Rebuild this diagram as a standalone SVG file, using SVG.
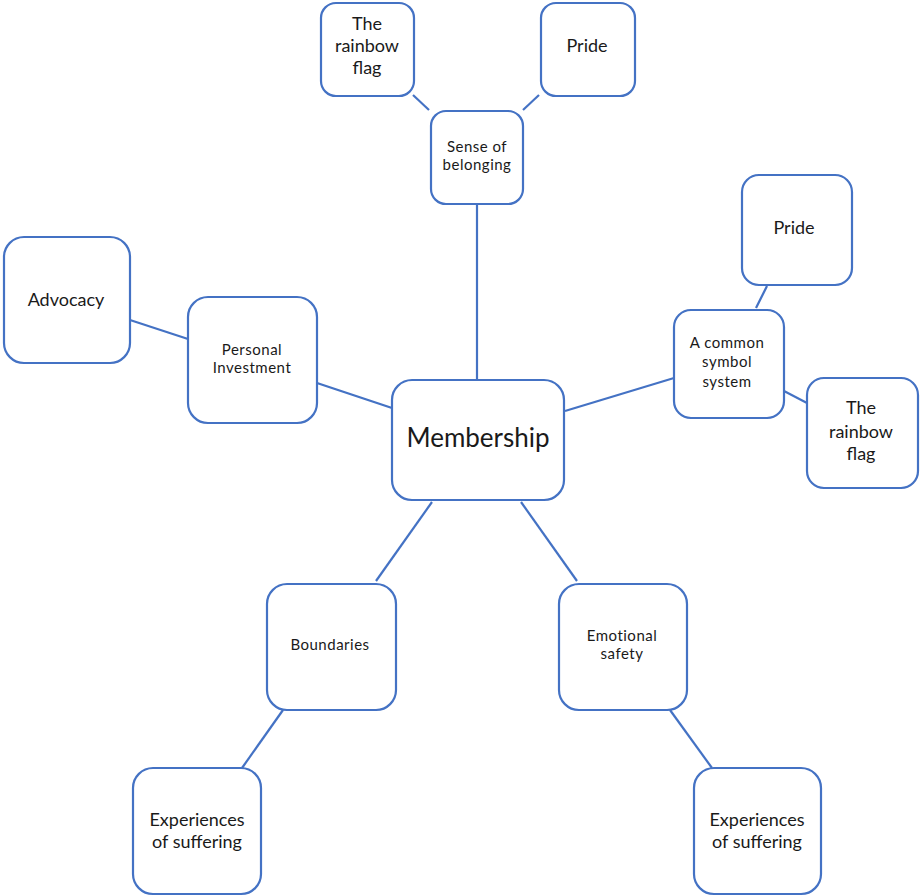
<svg xmlns="http://www.w3.org/2000/svg" width="921" height="896" viewBox="0 0 921 896">
<style>
rect.n{fill:#fff;stroke:#4472C4;stroke-width:2.2}
#edges line{stroke:#4472C4;stroke-width:2.2}
text{font-family:Lato,"Open Sans","Liberation Sans",sans-serif;fill:#1a1a1a;text-anchor:middle}
.s{font-size:15px;letter-spacing:0.5px}
.m{font-size:18px}
.l{font-size:26px}
</style>
<rect width="921" height="896" fill="#fff"/>
<g id="edges">
<line x1="413" y1="95" x2="429" y2="110"/>
<line x1="539" y1="95" x2="523" y2="110"/>
<line x1="477" y1="204" x2="477" y2="380"/>
<line x1="767" y1="286" x2="756" y2="308"/>
<line x1="784" y1="391" x2="807" y2="403"/>
<line x1="674" y1="378" x2="565" y2="411"/>
<line x1="130" y1="320" x2="188" y2="339"/>
<line x1="317" y1="383" x2="392" y2="408"/>
<line x1="432" y1="502" x2="376" y2="581"/>
<line x1="283" y1="710" x2="242" y2="768"/>
<line x1="521" y1="502" x2="577" y2="581"/>
<line x1="670" y1="710" x2="712" y2="768"/>
</g>
<g id="membership"><rect class="n" x="392" y="380" width="172" height="120" rx="20"/><text class="l" x="478" y="447">Membership</text></g>
<g id="sense"><rect class="n" x="431" y="111" width="92" height="93" rx="15"/><text class="s" x="477" y="152">Sense of</text><text class="s" x="477" y="170">belonging</text></g>
<g id="flag1"><rect class="n" x="321" y="3" width="93" height="93" rx="15"/><text class="m" x="367" y="30">The</text><text class="m" x="367" y="52">rainbow</text><text class="m" x="367" y="74">flag</text></g>
<g id="pride1"><rect class="n" x="541" y="3" width="94" height="93" rx="15"/><text class="m" x="587" y="52">Pride</text></g>
<g id="symbol"><rect class="n" x="674" y="310" width="110" height="108" rx="17"/><text class="s" x="727" y="348">A common</text><text class="s" x="727" y="367">symbol</text><text class="s" x="727" y="387">system</text></g>
<g id="pride2"><rect class="n" x="742" y="175" width="110" height="110" rx="17"/><text class="m" x="794" y="234">Pride</text></g>
<g id="flag2"><rect class="n" x="807" y="378" width="111" height="110" rx="17"/><text class="m" x="861" y="414">The</text><text class="m" x="861" y="438">rainbow</text><text class="m" x="861" y="460">flag</text></g>
<g id="advocacy"><rect class="n" x="4" y="237" width="126" height="126" rx="20"/><text class="m" x="66" y="306">Advocacy</text></g>
<g id="personal"><rect class="n" x="188" y="297" width="129" height="126" rx="20"/><text class="s" x="252" y="355">Personal</text><text class="s" x="252" y="373">Investment</text></g>
<g id="boundaries"><rect class="n" x="267" y="584" width="129" height="126" rx="20"/><text class="s" x="330" y="650">Boundaries</text></g>
<g id="emotional"><rect class="n" x="559" y="584" width="128" height="126" rx="20"/><text class="s" x="622" y="641">Emotional</text><text class="s" x="622" y="659">safety</text></g>
<g id="exp1"><rect class="n" x="133" y="768" width="128" height="126" rx="20"/><text class="m" x="197" y="826">Experiences</text><text class="m" x="197" y="848">of suffering</text></g>
<g id="exp2"><rect class="n" x="694" y="768" width="127" height="126" rx="20"/><text class="m" x="757" y="826">Experiences</text><text class="m" x="757" y="848">of suffering</text></g>
</svg>
